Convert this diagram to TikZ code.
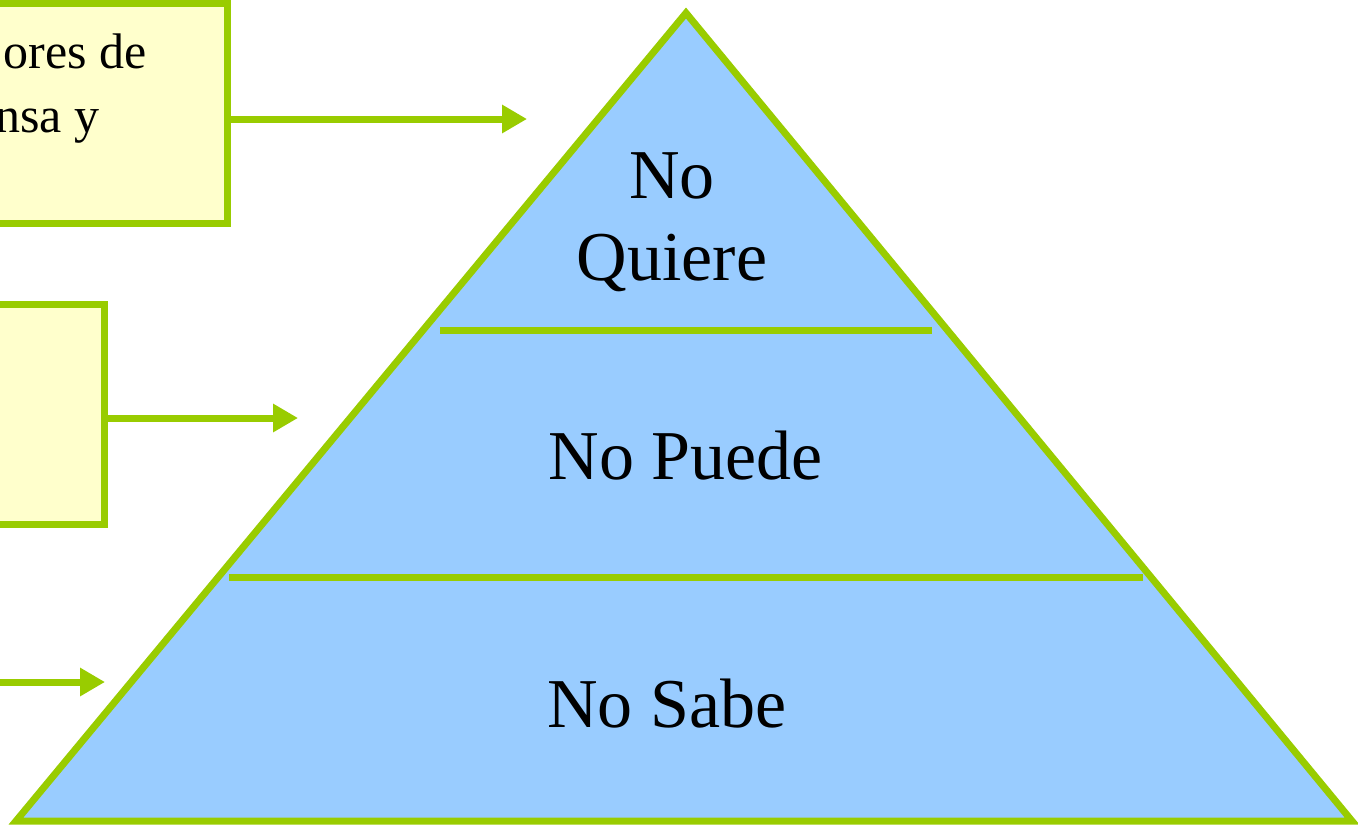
\documentclass[tikz,border=0pt]{standalone}
\usepackage{fontspec}
\setmainfont{Liberation Serif}
\usepackage{tikz}
\usetikzlibrary{positioning}
\usetikzlibrary{arrows.meta,calc}
\definecolor{leafgreen}{HTML}{99CC00}
\definecolor{skyblue}{HTML}{99CCFF}
\definecolor{paleyellow}{HTML}{FFFFCC}
\tikzstyle{sidebox}=[rectangle,draw=leafgreen,fill=paleyellow,line width=3.5pt,minimum width=300pt,minimum height=110pt,inner sep=0pt]
\tikzstyle{pointer} = [draw=leafgreen,line width=3.5pt,-{Triangle[length=12.5pt,width=13.5pt]}]
\tikzstyle{layerline} = [draw=leafgreen,line width=3.5pt]
\tikzstyle{pyramid} = [draw=leafgreen,fill=skyblue,line width=3.5pt,line join=miter]
\tikzstyle{layertext} = [font=\fontsize{35}{41}\selectfont,align=center,inner sep=0pt]
\tikzstyle{boxtext} = [font=\fontsize{25}{30}\selectfont,inner sep=0pt]

\begin{document}
\begin{tikzpicture}[x=0.5pt,y=-0.5pt]
    \useasboundingbox (0,0) rectangle (1358,825);

    % the boxes on the left, cut by the page edge
    \node[sidebox] (box1) at (-73,113.75) {};
    \node[sidebox] (box2) at (-196,414) {};
    \node[boxtext,anchor=base east] (t1) at (147,68) {ores de};
    \node[boxtext,anchor=base east] (t2) at (100,132) {nsa y};

    % the pyramid
    \coordinate (apex) at (686,13);
    \coordinate (bl) at (16,821);
    \coordinate (br) at (1352,821);
    \path[pyramid] (apex) -- (bl) -- (br) -- cycle;
    \coordinate (L1a) at (440,330);
    \coordinate (L1b) at (932,330);
    \coordinate (L2a) at (229,577);
    \coordinate (L2b) at (1143,577);
    \path[layerline] (L1a) -- (L1b);
    \path[layerline] (L2a) -- (L2b);

    \node[layertext,anchor=base] (quiere) at (672,280) {No\\Quiere};
    \node[layertext,anchor=base] (puede) at (686,479) {No Puede};
    \node[layertext,anchor=base] (sabe) at (667,727) {No Sabe};

    % arrows
    \coordinate (tip1) at (527,119);
    \coordinate (tip2) at (298,418);
    \coordinate (tail3) at (-40,682);
    \coordinate (tip3) at (105,682);
    \path[pointer] (tip1 -| box1.east) -- (tip1);
    \path[pointer] (tip2 -| box2.east) -- (tip2);
    \path[pointer] (tail3) -- (tip3);
\end{tikzpicture}
\end{document}
